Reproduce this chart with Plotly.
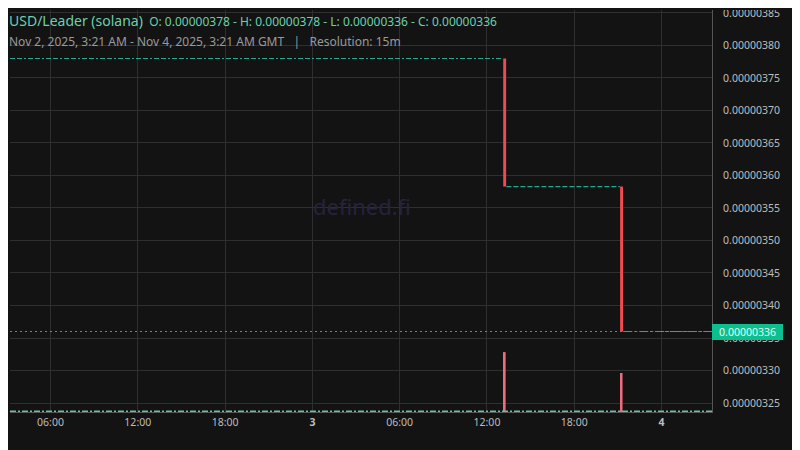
import plotly.graph_objects as go

# ---- data ----
level_start = ["2025-11-02 03:13", "2025-11-03 13:20", "2025-11-03 21:22"]
level_end = ["2025-11-03 13:04", "2025-11-03 21:08", "2025-11-04 03:28"]
level_price = [3.78e-6, 3.583e-6, 3.36e-6]

drop_time = ["2025-11-03 13:13", "2025-11-03 21:15"]
drop_open = [3.78e-6, 3.583e-6]
drop_close = [3.583e-6, 3.36e-6]
drop_volume = [149, 97]

flat_volume = 2.0
vol_start = "2025-11-02 03:13"
vol_end = "2025-11-04 03:28"

tick_vals = ["2025-11-02 06:00", "2025-11-02 12:00", "2025-11-02 18:00", "2025-11-03 00:00",
             "2025-11-03 06:00", "2025-11-03 12:00", "2025-11-03 18:00", "2025-11-04 00:00"]
tick_text = ["06:00", "12:00", "18:00", "<b>3</b>", "06:00", "12:00", "18:00", "<b>4</b>"]

y_ticks = [3.25e-6, 3.30e-6, 3.35e-6, 3.40e-6, 3.45e-6, 3.50e-6, 3.55e-6,
           3.60e-6, 3.65e-6, 3.70e-6, 3.75e-6, 3.80e-6, 3.85e-6]

ohlc = dict(O=3.78e-6, H=3.78e-6, L=3.36e-6, C=3.36e-6)
last_close = drop_close[-1]

BG = "#131313"
GRID = "#2f2f2f"
TEAL = "#26a98f"
RED = "#ef4b53"
VOLRED = "#f06b7e"
VOLTEAL = "#62c2a8"
FONT = "Noto Sans"

fig = go.Figure()

dashes = ["5px,2px,5px,2px,2px,2px", "5px,2px", "9px,2px,3px,2px"]
for s, e, p, d in zip(level_start, level_end, level_price, dashes):
    fig.add_trace(go.Scatter(x=[s, e], y=[p, p], mode="lines",
                             line=dict(color=TEAL, width=1.2, dash=d),
                             hoverinfo="skip", showlegend=False))

fig.add_trace(go.Bar(x=drop_time, base=drop_close,
                     y=[o - c for o, c in zip(drop_open, drop_close)],
                     width=720000, marker=dict(color=RED, line=dict(width=0)),
                     showlegend=False, hoverinfo="skip"))

# volume pane (overlay at bottom)
fig.add_trace(go.Scatter(x=[vol_start, vol_end], y=[flat_volume, flat_volume], mode="lines",
                         line=dict(color=VOLTEAL, width=1.5, dash="6px,2px,2px,2px"),
                         yaxis="y2", hoverinfo="skip", showlegend=False))
fig.add_trace(go.Bar(x=drop_time, y=drop_volume, width=480000,
                     marker=dict(color=VOLRED, line=dict(width=0)),
                     yaxis="y2", showlegend=False, hoverinfo="skip"))

fig.update_layout(
    width=800, height=450,
    margin=dict(l=2, r=96, t=2, b=46, autoexpand=False),
    paper_bgcolor=BG, plot_bgcolor=BG,
    barmode="overlay",
    showlegend=False,
    font=dict(family=FONT, color="#bdbdbd", size=10.5),
    xaxis=dict(type="date", range=["2025-11-02 03:13", "2025-11-04 03:28"],
               tickvals=tick_vals, ticktext=tick_text, automargin=False,
               showgrid=True, gridcolor=GRID, gridwidth=1,
               showline=True, linecolor="#565656", linewidth=1,
               ticks="", tickfont=dict(size=10.5, color="#bdbdbd", family=FONT),
               zeroline=False, fixedrange=True),
    yaxis=dict(side="right", range=[3.23615e-6, 3.8546e-6], automargin=False,
               tickvals=y_ticks, tickformat=".8f",
               showgrid=True, gridcolor=GRID, gridwidth=1,
               showline=True, linecolor="#565656", linewidth=1,
               ticks="", ticklabelstandoff=8, ticklabeloverflow="allow",
               tickfont=dict(size=10.5, color="#bdbdbd", family=FONT),
               zeroline=False),
    yaxis2=dict(overlaying="y", range=[0, 1000], visible=False),
)

# last price line
fig.add_shape(type="line", xref="paper", x0=0, x1=1, yref="y", y0=last_close, y1=last_close,
              line=dict(color=TEAL, width=1, dash="2px,3px"), layer="above")

# legend background box (hides grid under header)
fig.add_shape(type="rect", xref="paper", yref="paper",
              x0=-10 / 702, x1=(511 - 10) / 702, y0=(412 - 52) / 402, y1=1.0,
              fillcolor=BG, line=dict(width=0), layer="between")
# clip area above the plot on right axis
fig.add_shape(type="rect", xref="paper", yref="paper",
              x0=1.001, x1=1.2, y0=1.0, y1=1.005,
              fillcolor=BG, line=dict(width=0), layer="above")

fmt = lambda v: f"{v:.8f}"
header = (f"<span style='font-size:14px'>USD/Leader (solana)</span>  "
          f"O: {fmt(ohlc['O'])} - H: {fmt(ohlc['H'])} - L: {fmt(ohlc['L'])} - C: {fmt(ohlc['C'])}")
fig.add_annotation(xref="paper", yref="paper", x=-3 / 702, y=(412 - 20) / 402,
                   xanchor="left", yanchor="middle", showarrow=False, text=header,
                   font=dict(family=FONT, size=12, color="#6bd0ad"))
fig.add_annotation(xref="paper", yref="paper", x=-3 / 702, y=(412 - 41) / 402,
                   xanchor="left", yanchor="middle", showarrow=False,
                   text="Nov 2, 2025, 3:21 AM - Nov 4, 2025, 3:21 AM GMT   |   Resolution: 15m",
                   font=dict(family=FONT, size=12, color="#9a9a9a"))

# watermark
fig.add_annotation(xref="paper", yref="paper", x=(362 - 10) / 702, y=(412 - 206) / 402,
                   showarrow=False, text="defined.fi",
                   font=dict(family=FONT, size=22, color="#26233c"))

# last price label
fig.add_annotation(xref="paper", yref="y", x=1, y=last_close, xanchor="left", yanchor="middle",
                   showarrow=False, text=fmt(last_close), bgcolor="#0bbf8f",
                   width=67, height=12, borderpad=2, borderwidth=0, align="center",
                   font=dict(family=FONT, size=10.5, color="#eafaf4"))

fig.write_html("out.html")
